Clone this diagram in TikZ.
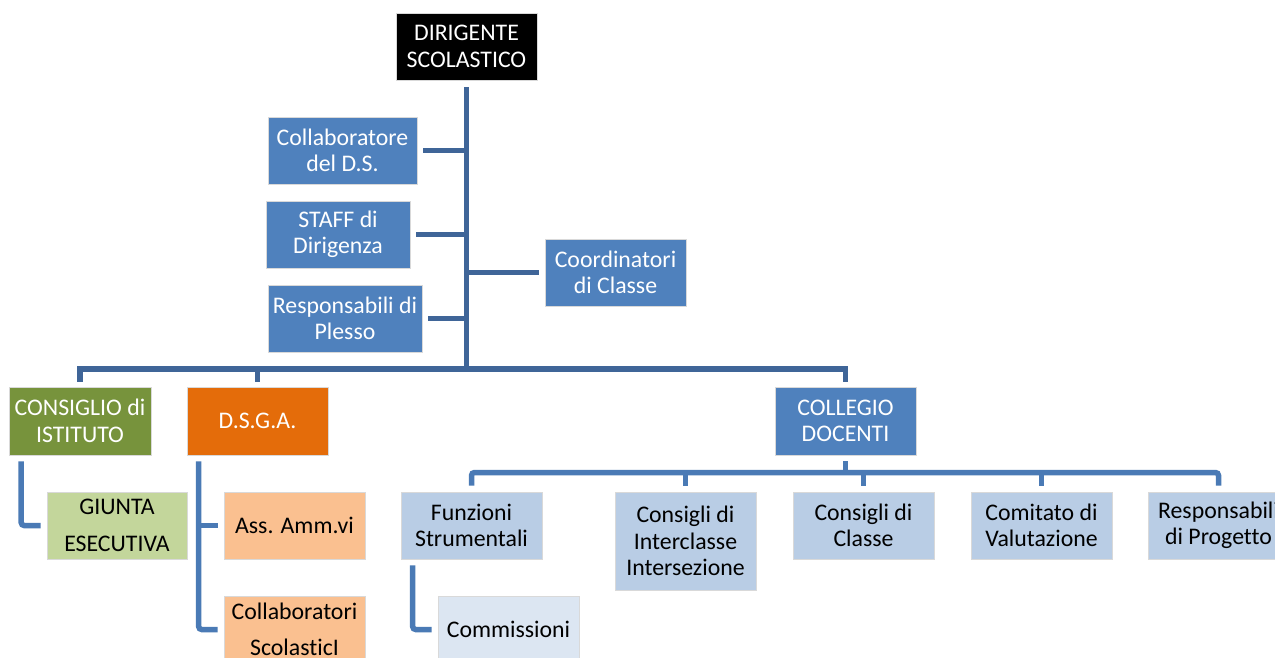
\documentclass[tikz,border=0pt]{standalone}
\usepackage{fontspec}
\setmainfont[Ligatures=NoCommon]{Carlito}
\definecolor{linkdark}{HTML}{3F6598}
\definecolor{linklight}{HTML}{4A7AB5}
\definecolor{blueA}{HTML}{4F81BD}
\definecolor{blueB}{HTML}{B9CDE5}
\definecolor{blueC}{HTML}{DCE6F2}
\definecolor{olive}{HTML}{77933C}
\definecolor{olivelt}{HTML}{C3D69B}
\definecolor{orangeA}{HTML}{E46C0A}
\definecolor{orangelt}{HTML}{FAC090}
\begin{document}
\begin{tikzpicture}[x=1pt,y=-1pt,
  box/.style={rectangle, draw=white!85!black, line width=0.6pt, align=center,
    inner sep=0pt, minimum height=67pt, minimum width=141pt,
    font=\fontsize{23.8}{26.5}\selectfont},
  darkbox/.style={box, fill=blueA, text=white},
  lightbox/.style={box, fill=blueB, text=black},
  trunk/.style={draw=linkdark, line width=5.5pt, line cap=butt},
  link/.style={draw=linklight, line width=5.5pt, line cap=butt, rounded corners=3pt}]
\clip (0,0) rectangle (1275,657);
\fill[white] (0,0) rectangle (1275,657);

% head of the school
\node[box, fill=black, text=white] (dir) at (466.5,46.5) {DIRIGENTE\\SCOLASTICO};

% staff attached to the head
\node[darkbox, minimum width=149pt] (collab) at (342.5,150.5) {Collaboratore\\del D.S.};
\node[darkbox, minimum width=144pt] (staff) at (338,234.5) {STAFF di\\Dirigenza};
\node[darkbox, minimum width=154pt] (plesso) at (345,318.5) {Responsabili di\\Plesso};
\node[darkbox] (coord) at (615.5,272.5) {Coordinatori\\di Classe};

% second level
\node[box, fill=olive, text=white, minimum height=68pt, minimum width=142pt] (ci) at (80,421) {CONSIGLIO di\\ISTITUTO};
\node[box, fill=orangeA, text=white, minimum height=68pt] (dsga) at (257.5,421) {D.S.G.A.};
\node[darkbox, minimum height=68pt] (col) at (845.5,421) {COLLEGIO\\DOCENTI};

% under the school council and the DSGA
\node[box, fill=olivelt, minimum width=140pt] (giunta) at (117,525.5) {GIUNTA\\[10pt]ESECUTIVA};
\node[box, fill=orangelt] (ass) at (294.5,525.5) {Ass. Amm.vi};
\node[box, fill=orangelt] (collsc) at (294.5,629.5) {Collaboratori\\[10pt]ScolasticI};

% under the teachers' board
\node[lightbox] (fun) at (471.5,525.5) {Funzioni\\Strumentali};
\node[lightbox, minimum height=98pt] (inter) at (685.5,541) {Consigli di\\Interclasse\\Intersezione};
\node[lightbox] (cdc) at (863.5,525.5) {Consigli di\\Classe};
\node[lightbox] (com) at (1041.5,525.5) {Comitato di\\Valutazione};
\node[lightbox] (rp) at (1218.5,525.5) {Responsabili\\di Progetto};
\node[box, fill=blueC] (comm) at (508.5,629.5) {Commissioni};

% main trunk and branches
\coordinate (hub) at (466.5,369);
\draw[trunk] ([yshift=-7pt]dir.south) -- (hub);
\draw[trunk] ([xshift=6pt]collab.east) -- (collab.east -| hub);
\draw[trunk] ([xshift=6pt]staff.east) -- (staff.east -| hub);
\draw[trunk] ([xshift=6pt]plesso.east) -- (plesso.east -| hub);
\draw[trunk] ([xshift=-6pt]coord.west) -- (coord.west -| hub);
\draw[trunk] ([yshift=5pt]ci.north) |- (hub) -| ([yshift=5pt]col.north);
\draw[trunk] ([yshift=5pt]dsga.north) -- (dsga.north |- hub);

% school council and DSGA branches
\draw[link] ([xshift=12.5pt,yshift=-6pt]ci.south west) |- ([xshift=-6pt]giunta.west);
\draw[link] ([xshift=12pt,yshift=-6pt]dsga.south west) |- ([xshift=-6pt]collsc.west);
\draw[link, rounded corners=0pt] ([xshift=12pt]dsga.south west |- ass.west) -- ([xshift=-6pt]ass.west);

% teachers' board branches
\coordinate (cbus) at (845.5,472.5);
\draw[link] ([yshift=-6pt]col.south) -- (cbus);
\draw[link] ([yshift=6pt]fun.north) |- (cbus) -| ([yshift=6pt]rp.north);
\draw[link] ([yshift=6pt]inter.north) -- (inter.north |- cbus);
\draw[link] ([yshift=6pt]cdc.north) -- (cdc.north |- cbus);
\draw[link] ([yshift=6pt]com.north) -- (com.north |- cbus);
\draw[link] ([xshift=12pt,yshift=-6pt]fun.south west) |- ([xshift=-6pt]comm.west);
\end{tikzpicture}
\end{document}
